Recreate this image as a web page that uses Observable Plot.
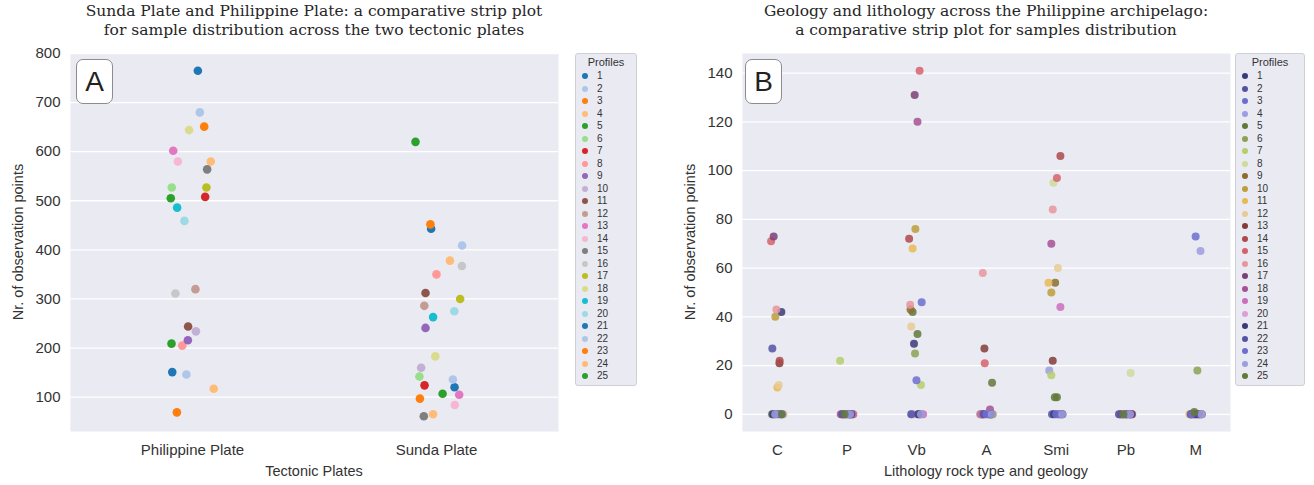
<!DOCTYPE html>
<html><head><meta charset="utf-8">
<script src="https://cdn.jsdelivr.net/npm/d3@7"></script>
<script src="https://cdn.jsdelivr.net/npm/@observablehq/plot@0.6"></script>
<style>
body{margin:0;background:#fff;}
#root{position:relative;width:1314px;height:485px;overflow:hidden;font-family:"Liberation Sans",Arial,sans-serif;color:#262626;}
.title{position:absolute;font-family:"DejaVu Serif",serif;font-size:15.5px;line-height:19px;text-align:center;color:#262626;white-space:nowrap;}
.ylab{position:absolute;font-size:14.5px;transform:translate(-50%,-50%) rotate(-90deg);white-space:nowrap;color:#333;}
.xlab{position:absolute;font-size:14.5px;transform:translate(-50%,-50%);white-space:nowrap;color:#333;}
.badge{position:absolute;width:37px;height:45px;background:#fff;border:1px solid #8c8c8c;border-radius:7px;font-size:28px;display:flex;align-items:center;justify-content:center;box-sizing:border-box;color:#222;}
.legend{position:absolute;background:#eaeaf2;border:1px solid #cfcfd6;border-radius:3px;font-size:10px;box-sizing:border-box;color:#333;}
.legend .lt{position:absolute;left:0;right:0;top:2px;text-align:center;font-size:11px;}
.legend .row{position:absolute;left:0;height:12px;line-height:12px;}
.legend .mk{position:absolute;left:6px;top:3px;width:6px;height:6px;border-radius:50%;}
.legend .lb{position:absolute;left:21px;top:0;}
.panel svg{position:absolute;}
</style></head>
<body><div id="root"></div>
<script>
// ---------- data ----------
const profiles = [1,2,3,4,5,6,7,8,9,10,11,12,13,14,15,16,17,18,19,20,21,22,23,24,25];
const plates = ["Philippine Plate", "Sunda Plate"];
// observation points per profile (profiles 1..25)
const philippineValues = [765,680,651,580,505,527,508,205,216,234,244,320,602,580,564,311,527,644,486,459,151,146,69,117,209];
const sundaValues      = [443,409,452,378,620,142,124,350,241,160,312,286,105,84,61,367,300,183,263,275,120,136,97,65,107];
// strip jitter (category units)
const philippineJitter = [0.022,0.03,0.048,0.075,-0.089,-0.085,0.052,-0.042,-0.019,0.014,-0.018,0.012,-0.079,-0.06,0.06,-0.07,0.057,-0.014,-0.063,-0.033,-0.083,-0.025,-0.064,0.087,-0.086];
const sundaJitter      = [-0.022,0.105,-0.025,0.055,-0.086,-0.07,-0.049,0,-0.045,-0.063,-0.045,-0.05,0.093,0.075,-0.052,0.104,0.097,-0.005,-0.014,0.073,0.074,0.067,-0.068,-0.014,0.025];
const yTicksA = [100,200,300,400,500,600,700,800];

const lithology = ["C","P","Vb","A","Smi","Pb","M"];
const valC   = [42,27,0,0,0,0,0,0,0,40,11,12,21,22,71,43,73,0,0,0,0,0,0,0,0];
const valP   = [0,0,0,0,0,0,22,0,0,0,0,0,0,0,0,0,0,0,0,0,0,0,0,0,0];
const valVb  = [29,0,46,0,42,25,12,0,43,76,68,36,0,72,141,45,131,120,0,0,0,0,14,0,33];
const valA   = [0,0,0,0,0,0,0,0,0,0,0,0,27,0,21,58,0,2,0,0,0,0,0,0,13];
const valSmi = [0,0,0,18,7,0,16,95,54,50,54,60,22,106,97,84,0,70,44,0,0,0,0,0,7];
const valPb  = [0,0,0,0,0,0,0,17,0,0,0,0,0,0,0,0,0,0,0,0,0,0,0,0,0];
const valM   = [0,0,73,67,0,18,0,0,0,0,0,0,0,0,0,0,0,0,0,0,0,0,0,0,1];
const jitC   = [0.057,-0.072,-0.06,0.07,-0.02,0.04,-0.08,0.09,-0.04,-0.029,0,0.02,0.03,0.033,-0.09,-0.014,-0.053,0.06,-0.05,0.08,-0.07,0.01,0.05,-0.03,0.065];
const jitP   = [-0.06,0.04,0.08,-0.03,0.02,-0.08,-0.1,0.06,-0.04,0.09,0.01,-0.07,0.05,-0.02,0.07,-0.05,0.03,-0.09,0.085,-0.01,0.06,-0.065,0.0,0.045,-0.035];
const jitVb  = [-0.04,0.05,0.07,-0.07,-0.06,-0.025,0.06,0.08,-0.09,-0.02,-0.06,-0.08,0.03,-0.11,0.04,-0.095,-0.03,0.01,0.09,-0.05,0.02,-0.08,-0.005,0.06,0.01];
const jitA   = [0.04,-0.07,0.08,-0.03,0.06,-0.09,0.01,0.07,-0.05,0.09,-0.02,0.03,-0.03,-0.06,-0.025,-0.053,0.05,0.05,-0.08,0.02,0.065,-0.04,0.0,0.075,0.08];
const jitSmi = [0.03,-0.06,0.08,-0.1,0.01,0.05,-0.07,-0.04,-0.015,-0.07,-0.11,0.025,-0.05,0.06,0.01,-0.05,0.09,-0.07,0.06,0.04,-0.03,0.07,0.0,0.085,-0.02];
const jitPb  = [-0.08,0.05,-0.03,0.08,0.02,-0.06,0.07,0.067,-0.01,0.04,-0.09,0.03,0.06,-0.05,0.09,-0.02,0.01,-0.07,0.05,-0.04,0.08,-0.1,0.0,0.06,-0.035];
const jitM   = [0.05,-0.06,0.0,0.07,-0.08,0.025,0.03,-0.04,0.09,-0.02,0.06,-0.09,0.01,0.08,-0.05,0.04,-0.07,0.02,-0.03,0.07,-0.01,0.05,-0.06,0.085,-0.02];
const yTicksB = [0,20,40,60,80,100,120,140];

const tab20  = ["#1f77b4","#aec7e8","#ff7f0e","#ffbb78","#2ca02c","#98df8a","#d62728","#ff9896","#9467bd","#c5b0d5","#8c564b","#c49c94","#e377c2","#f7b6d2","#7f7f7f","#c7c7c7","#bcbd22","#dbdb8d","#17becf","#9edae5"];
const tab20b = ["#393b79","#5254a3","#6b6ecf","#9c9ede","#637939","#8ca252","#b5cf6b","#cedb9c","#8c6d31","#bd9e39","#e7ba52","#e7cb94","#843c39","#ad494a","#d6616b","#e7969c","#7b4173","#a55194","#ce6dbd","#de9ed6"];

// ---------- build tables ----------
const dataA = [];
profiles.forEach((p, k) => {
  dataA.push({x: 0 + philippineJitter[k], y: philippineValues[k], c: tab20[k % 20]});
  dataA.push({x: 1 + sundaJitter[k], y: sundaValues[k], c: tab20[k % 20]});
});
const valsB = [valC, valP, valVb, valA, valSmi, valPb, valM];
const jitsB = [jitC, jitP, jitVb, jitA, jitSmi, jitPb, jitM];
const dataB = [];
profiles.forEach((p, k) => {
  lithology.forEach((cat, i) => {
    dataB.push({x: i + jitsB[i][k], y: valsB[i][k], c: tab20b[k % 20]});
  });
});

const root = document.getElementById("root");
const font = '"Liberation Sans", Arial, sans-serif';

function panel(left, opts) {
  const div = document.createElement("div");
  div.className = "panel";
  div.style.cssText = `position:absolute;left:${left}px;top:0;width:660px;height:485px;`;
  const plot = Plot.plot({
    width: 560, height: 440,
    marginLeft: 70, marginRight: 2, marginTop: 8, marginBottom: 54,
    style: {fontFamily: font, fontSize: "15px", color: "#333", background: "transparent", overflow: "visible"},
    x: {domain: opts.xDomain},
    y: {domain: opts.yDomain},
    color: {type: "identity"},
    marks: [
      Plot.frame({fill: "#eaeaf2", stroke: "none"}),
      Plot.gridY(opts.yTicks, {stroke: "#fff", strokeOpacity: 1, strokeWidth: 1.3}),
      Plot.axisY(opts.yTicks, {tickSize: 0, tickPadding: 10, label: null, fontSize: 15}),
      Plot.axisX(opts.xTicks, {tickSize: 0, tickPadding: 13, label: null, fontSize: 15, tickFormat: i => opts.cats[i]}),
      Plot.dot(opts.data, {x: "x", y: "y", fill: "c", r: opts.r, fillOpacity: opts.op})
    ]
  });
  plot.style.left = "0px"; plot.style.top = "45px";
  div.appendChild(plot);

  const t = document.createElement("div");
  t.className = "title";
  t.style.cssText = `left:70px;width:488px;top:2px;`;
  t.innerHTML = opts.title;
  div.appendChild(t);

  const yl = document.createElement("div");
  yl.className = "ylab"; yl.textContent = "Nr. of observation points";
  yl.style.left = opts.ylx + "px"; yl.style.top = "242px";
  div.appendChild(yl);

  const xl = document.createElement("div");
  xl.className = "xlab"; xl.textContent = opts.xlabel;
  xl.style.left = "314px"; xl.style.top = "471px";
  div.appendChild(xl);

  const b = document.createElement("div");
  b.className = "badge"; b.textContent = opts.badge;
  b.style.left = opts.bx + "px"; b.style.top = "59px";
  div.appendChild(b);

  const lg = document.createElement("div");
  lg.className = "legend";
  lg.style.cssText = `left:${opts.lgx}px;top:53px;width:${opts.lgw}px;height:333px;`;
  const lt = document.createElement("div"); lt.className = "lt"; lt.textContent = "Profiles"; lg.appendChild(lt);
  profiles.forEach((p, k) => {
    const row = document.createElement("div"); row.className = "row";
    row.style.top = (16 + k * 12.5) + "px";
    const mk = document.createElement("span"); mk.className = "mk"; mk.style.background = opts.pal[k % 20];
    const lb = document.createElement("span"); lb.className = "lb"; lb.textContent = p;
    row.appendChild(mk); row.appendChild(lb); lg.appendChild(row);
  });
  div.appendChild(lg);
  root.appendChild(div);
}

panel(0, {
  xDomain: [-0.5, 1.5], yDomain: [30, 800], yTicks: yTicksA, xTicks: [0, 1], cats: plates,
  data: dataA, r: 4.3, op: 1, pal: tab20,
  title: "Sunda Plate and Philippine Plate: a comparative strip plot<br>for sample distribution across the two tectonic plates",
  xlabel: "Tectonic Plates", ylx: 18, badge: "A", bx: 76, lgx: 575, lgw: 62
});
panel(672, {
  xDomain: [-0.5, 6.5], yDomain: [-7.05, 148.05], yTicks: yTicksB, xTicks: [0,1,2,3,4,5,6], cats: lithology,
  data: dataB, r: 4, op: 0.85, pal: tab20b,
  title: "Geology and lithology across the Philippine archipelago:<br>a comparative strip plot for samples distribution",
  xlabel: "Lithology rock type and geology", ylx: 18, badge: "B", bx: 73, lgx: 563, lgw: 70
});
</script>
</body></html>
